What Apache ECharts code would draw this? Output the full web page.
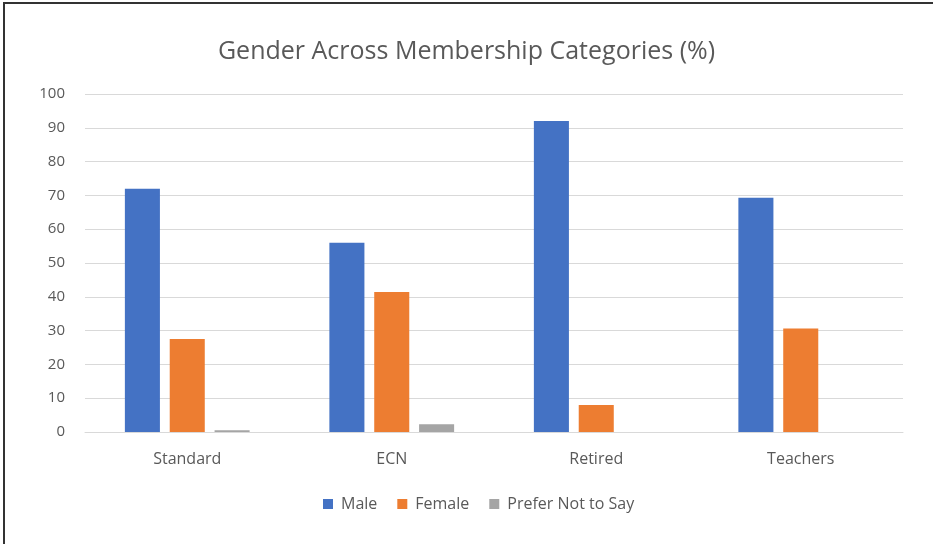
<!DOCTYPE html>
<html><head><meta charset="utf-8">
<script src="https://cdn.jsdelivr.net/npm/echarts@6/dist/echarts.min.js"></script>
<style>
html,body{margin:0;padding:0;background:#fff;}
#wrap{position:absolute;left:0;top:0;width:933px;height:544px;}
#frame{position:absolute;left:3px;top:2px;width:940px;height:560px;border-top:2px solid #333;border-left:2px solid #333;pointer-events:none;}
#chart{position:absolute;left:0;top:0;width:933px;height:544px;}
</style></head>
<body>
<div id="wrap"><div id="chart"></div><div id="frame"></div></div>
<script>
const categories = ["Standard", "ECN", "Retired", "Teachers"];
const seriesNames = ["Male", "Female", "Prefer Not to Say"];
const maleValues = [72, 56, 92, 69.3];
const femaleValues = [27.5, 41.4, 8, 30.6];
const preferValues = [0.5, 2.3, 0, 0];
const colors = ["#4472C4", "#ED7D31", "#A5A5A5"];
const yTicks = {min: 0, max: 100, interval: 10};

const chart = echarts.init(document.getElementById('chart'));
const font = "'Open Sans', 'Liberation Sans', sans-serif";
const mk = (name, data, color) => ({
  name, type: 'bar', data, barGap: '28%', barCategoryGap: '39%',
  itemStyle: {color}
});
chart.setOption({
  animation: false,
  title: {text: 'Gender Across Membership Categories (%)', left: 'center', top: 34,
    textStyle: {fontFamily: font, fontSize: 25, fontWeight: 'normal', color: '#595959'}},
  legend: {bottom: 27, left: 318, itemWidth: 10, itemHeight: 10, itemGap: 20, icon: 'rect',
    textStyle: {fontFamily: font, fontSize: 16, color: '#595959', padding: [0, 0, 0, 3]},
    data: seriesNames},
  grid: {left: 85, right: 30, top: 94, bottom: 112},
  xAxis: {type: 'category', data: categories,
    axisLine: {lineStyle: {color: '#D9D9D9'}}, axisTick: {show: false},
    axisLabel: {fontFamily: font, fontSize: 16, color: '#595959', margin: 19}},
  yAxis: {type: 'value', min: yTicks.min, max: yTicks.max, interval: yTicks.interval,
    axisLine: {show: false}, axisTick: {show: false},
    splitLine: {lineStyle: {color: '#D9D9D9', width: 1}},
    axisLabel: {fontFamily: font, fontSize: 15, color: '#595959', margin: 20, lineHeight: 22, verticalAlign: 'middle'}},
  series: [mk(seriesNames[0], maleValues, colors[0]), mk(seriesNames[1], femaleValues, colors[1]), mk(seriesNames[2], preferValues, colors[2])]
});
</script>
</body></html>
